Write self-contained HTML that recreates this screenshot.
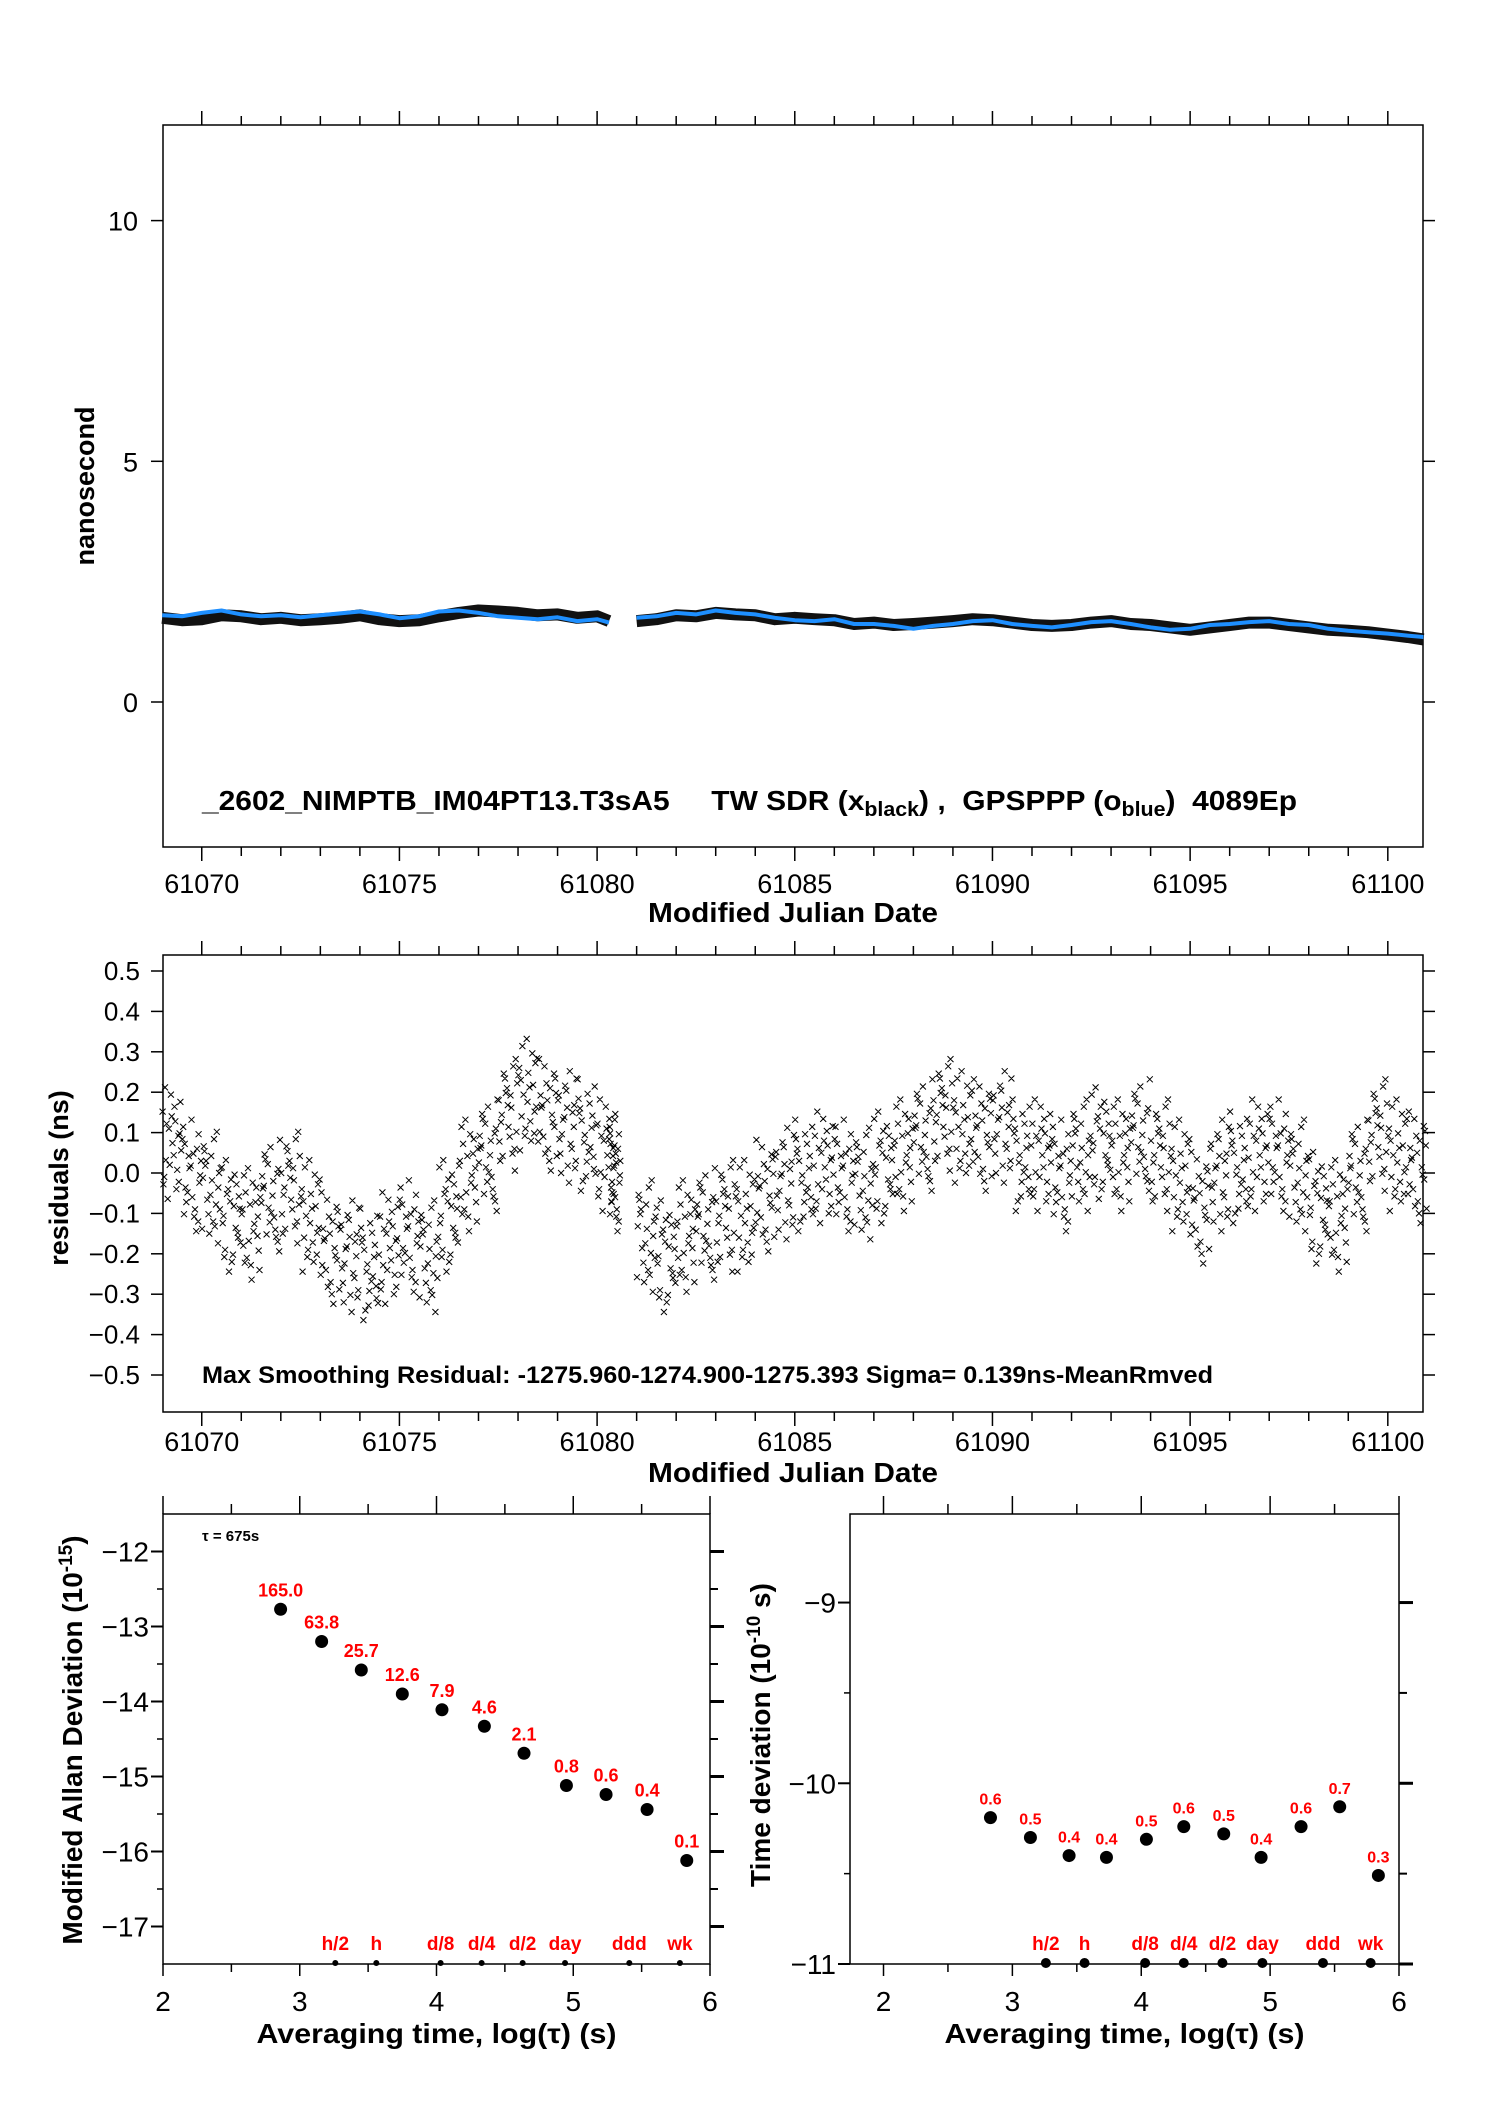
<!DOCTYPE html>
<html><head><meta charset="utf-8"><style>
html,body{margin:0;padding:0;background:#fff}
svg{display:block}
text{font-family:"Liberation Sans",sans-serif}
</style></head><body>
<svg id="fig" width="1488" height="2105" viewBox="0 0 1488 2105" xmlns="http://www.w3.org/2000/svg"></svg>
<script>
// ---------- DATA ----------
const topDaysA = [61069,61069.5,61070,61070.5,61071,61071.5,61072,61072.5,61073,61073.5,61074,61074.5,61075,61075.5,61076,61076.5,61077,61077.5,61078,61078.5,61079,61079.5,61080,61080.3];
const topBlackA = [1.75,1.7,1.72,1.8,1.78,1.72,1.75,1.7,1.72,1.75,1.8,1.72,1.68,1.7,1.78,1.85,1.9,1.88,1.85,1.8,1.82,1.75,1.78,1.68];
const topBlueA = [1.8,1.78,1.85,1.9,1.82,1.78,1.8,1.76,1.8,1.84,1.88,1.82,1.74,1.78,1.88,1.9,1.85,1.78,1.75,1.72,1.76,1.68,1.72,1.65];
const topDaysB = [61081,61081.5,61082,61082.5,61083,61083.5,61084,61084.5,61085,61085.5,61086,61086.5,61087,61087.5,61088,61088.5,61089,61089.5,61090,61090.5,61091,61091.5,61092,61092.5,61093,61093.5,61094,61094.5,61095,61095.5,61096,61096.5,61097,61097.5,61098,61098.5,61099,61099.5,61100,61100.5,61100.9];
const topBlackB = [1.68,1.72,1.8,1.78,1.85,1.82,1.8,1.72,1.75,1.72,1.7,1.62,1.65,1.6,1.62,1.65,1.68,1.72,1.7,1.65,1.6,1.58,1.6,1.65,1.68,1.62,1.6,1.55,1.5,1.55,1.6,1.65,1.65,1.6,1.55,1.5,1.48,1.45,1.4,1.35,1.3];
const topBlueB = [1.75,1.78,1.85,1.82,1.9,1.85,1.82,1.75,1.7,1.68,1.72,1.62,1.62,1.58,1.52,1.58,1.62,1.68,1.7,1.62,1.58,1.55,1.6,1.66,1.68,1.62,1.55,1.5,1.52,1.6,1.62,1.66,1.68,1.62,1.6,1.52,1.48,1.45,1.42,1.38,1.35];
const resDays = [61069,61069.5,61070,61070.5,61071,61071.5,61072,61072.5,61073,61073.5,61074,61074.5,61075,61075.5,61076,61076.5,61077,61077.5,61078,61078.5,61079,61079.5,61080,61080.3,
 61081,61081.5,61082,61082.5,61083,61083.5,61084,61084.5,61085,61085.5,61086,61086.5,61087,61087.5,61088,61088.5,61089,61089.5,61090,61090.5,61091,61091.5,61092,61092.5,61093,61093.5,61094,61094.5,61095,61095.5,61096,61096.5,61097,61097.5,61098,61098.5,61099,61099.5,61100,61100.5];
const resCenter = [0.08,0.0,-0.03,-0.1,-0.12,-0.05,-0.03,-0.1,-0.18,-0.2,-0.22,-0.18,-0.15,-0.2,-0.1,0.0,0.05,0.15,0.2,0.15,0.12,0.1,0.05,0.0,
 -0.15,-0.2,-0.15,-0.12,-0.1,-0.1,-0.05,-0.02,0.0,0.02,0.0,-0.02,0.02,0.05,0.1,0.15,0.12,0.1,0.12,0.05,0.05,0.0,0.05,0.08,0.05,0.1,0.05,0.0,-0.08,0.0,0.02,0.05,0.05,0.0,-0.08,-0.1,0.0,0.1,0.05,0.02];
const resSpread = 0.12;
const mdevX = [2.86,3.16,3.45,3.75,4.04,4.35,4.64,4.95,5.24,5.54,5.83];
const mdevY = [-12.77,-13.20,-13.58,-13.90,-14.11,-14.33,-14.69,-15.12,-15.24,-15.44,-16.12];
const mdevLbl = ["165.0","63.8","25.7","12.6","7.9","4.6","2.1","0.8","0.6","0.4","0.1"];
const tdevX = [2.83,3.14,3.44,3.73,4.04,4.33,4.64,4.93,5.24,5.54,5.84];
const tdevY = [-10.19,-10.30,-10.40,-10.41,-10.31,-10.24,-10.28,-10.41,-10.24,-10.13,-10.51];
const tdevLbl = ["0.6","0.5","0.4","0.4","0.5","0.6","0.5","0.4","0.6","0.7","0.3"];
const markNames = ["h/2","h","d/8","d/4","d/2","day","ddd","wk"];
const markX = [3.26,3.56,4.03,4.33,4.63,4.94,5.41,5.78];

// ---------- helpers ----------
const NS="http://www.w3.org/2000/svg";
const svg=document.getElementById('fig');
function mk(tag,attrs,parent){const e=document.createElementNS(NS,tag);for(const k in attrs)e.setAttribute(k,attrs[k]);(parent||svg).appendChild(e);return e;}
function txt(s,attrs,parent){const e=mk('text',attrs,parent);e.textContent=s;return e;}
function scale(d0,d1,r0,r1){return v=>r0+(v-d0)*(r1-r0)/(d1-d0);}

// ---------- TOP PANEL ----------
{
const L=163,R=1423,T=125,B=847;
const x=scale(61069.02,61100.89,L,R), y=scale(0,10,702,220.6);
const g=mk('g',{});


const fr=mk('rect',{x:L,y:T,width:R-L,height:B-T,fill:'none',stroke:'#000','stroke-width':1.5},g);

for(let d=61070;d<=61100;d++){const X=x(d),big=d%5===0;
 mk('line',{x1:X,x2:X,y1:T,y2:T-(big?14:9),stroke:'#000','stroke-width':1.5},g);
 mk('line',{x1:X,x2:X,y1:B,y2:B+(big?14:9),stroke:'#000','stroke-width':1.5},g);
 if(big){const t=txt(String(d),{x:X,y:893,'font-size':27,'text-anchor':'middle'},g);
  }}
for(const v of [0,5,10]){const Y=y(v);
 mk('line',{x1:L,x2:L-12,y1:Y,y2:Y,stroke:'#000','stroke-width':1.5},g);
 mk('line',{x1:R,x2:R+12,y1:Y,y2:Y,stroke:'#000','stroke-width':1.5},g);
 const t=txt(String(v),{x:138,y:Y+10,'font-size':27,'text-anchor':'end'},g);
 }
function seg(days,vals,col,w,name){const p=days.map((d,i)=>x(d).toFixed(1)+','+y(vals[i]).toFixed(1)).join(' ');
 const pl=mk('polyline',{points:p,fill:'none',stroke:col,'stroke-width':w,'stroke-linejoin':'round'},g);
 }
seg(topDaysA,topBlackA,'#111',12,'tw-sdr-series');
seg(topDaysB,topBlackB,'#111',12,'tw-sdr-series');
seg(topDaysA,topBlueA,'#1e8fff',4,'gpsppp-series');
seg(topDaysB,topBlueB,'#1e8fff',4,'gpsppp-series');
const yt=txt('nanosecond',{x:0,y:0,'font-size':27,'font-weight':'bold','text-anchor':'middle',transform:'translate(94,486) rotate(-90)'},g);

const xt=txt('Modified Julian Date',{x:793,y:922,'font-size':28,'font-weight':'bold','text-anchor':'middle',textLength:290,lengthAdjust:'spacingAndGlyphs'},g);

const lg=mk('text',{x:202,y:810,'font-size':28,'font-weight':'bold',textLength:1095,lengthAdjust:'spacingAndGlyphs'},g);

lg.innerHTML='_2602_NIMPTB_IM04PT13.T3sA5\u00a0\u00a0\u00a0\u00a0 TW SDR (x<tspan font-size="20" dy="6">black</tspan><tspan dy="-6">) ,\u00a0 GPSPPP (o</tspan><tspan font-size="20" dy="6">blue</tspan><tspan dy="-6">)\u00a0 4089Ep</tspan>';
}

// ---------- MIDDLE PANEL ----------
{
const L=163,R=1423,T=955,B=1412;
const x=scale(61069.02,61100.89,L,R), y=scale(0,0.5,1173,971);
const g=mk('g',{});


const fr=mk('rect',{x:L,y:T,width:R-L,height:B-T,fill:'none',stroke:'#000','stroke-width':1.5},g);

for(let d=61070;d<=61100;d++){const X=x(d),big=d%5===0;
 mk('line',{x1:X,x2:X,y1:T,y2:T-(big?14:9),stroke:'#000','stroke-width':1.5},g);
 mk('line',{x1:X,x2:X,y1:B,y2:B+(big?14:9),stroke:'#000','stroke-width':1.5},g);
 if(big){const t=txt(String(d),{x:X,y:1451,'font-size':27,'text-anchor':'middle'},g);
  }}
const yticks=[0.5,0.4,0.3,0.2,0.1,0.0,-0.1,-0.2,-0.3,-0.4,-0.5];
for(const v of yticks){const Y=y(v);
 mk('line',{x1:L,x2:L-12,y1:Y,y2:Y,stroke:'#000','stroke-width':1.5},g);
 mk('line',{x1:R,x2:R+12,y1:Y,y2:Y,stroke:'#000','stroke-width':1.5},g);
 const t=txt((v<0?'\u2212':'')+Math.abs(v).toFixed(1),{x:140,y:Y+9,'font-size':26,'text-anchor':'end'},g);
 }
const offs=[-0.9,0.4,-0.2,0.8,-0.6,0.1,0.6,-0.4,0.95,-0.75,0.25,-0.05,0.5,-1.0,0.7,-0.3,0.15,-0.85,0.35,-0.5,1.1,-1.2];
const xoffs=[0.03,0.41,0.17,0.29,0.07,0.46,0.22,0.36,0.11,0.33,0.01,0.26,0.44,0.14,0.38,0.05,0.31,0.19,0.48,0.09,0.24,0.42];
const pts=mk('g',{stroke:'#000','stroke-width':1,fill:'none'},g);

let s='';
resDays.forEach((d,i)=>{const c=resCenter[i];const n=offs.length;
 const lim=(i===23)?0.3:0.5;
 for(let k=0;k<n;k++){const dx=xoffs[(k+i*3)%n]*lim/0.5;const X=x(d+dx),Y=y(c+offs[(k*5+i)%n]*resSpread);
  s+=`M${(X-3).toFixed(1)},${(Y-3).toFixed(1)}l6,6M${(X-3).toFixed(1)},${(Y+3).toFixed(1)}l6,-6`;}});
mk('path',{d:s},pts);
const yt=txt('residuals (ns)',{x:0,y:0,'font-size':27,'font-weight':'bold','text-anchor':'middle',transform:'translate(68,1178) rotate(-90)'},g);

const xt=txt('Modified Julian Date',{x:793,y:1482,'font-size':28,'font-weight':'bold','text-anchor':'middle',textLength:290,lengthAdjust:'spacingAndGlyphs'},g);

const ann=txt('Max Smoothing Residual: -1275.960-1274.900-1275.393  Sigma= 0.139ns-MeanRmved',{x:202,y:1383,'font-size':24,'font-weight':'bold',textLength:1011,lengthAdjust:'spacingAndGlyphs'},g);

}

// ---------- STABILITY PANELS ----------
function stab(opt){
const {L,R,T,B,x0,x1,y0,y1,xs,ys,lbls,name,ytitle,ytx,yticks,minor,ybase}=opt;
const x=scale(x0,x1,L,R), y=scale(y0,y1,B,T);
const g=mk('g',{});


const fr=mk('rect',{x:L,y:T,width:R-L,height:B-T,fill:'none',stroke:'#000','stroke-width':1.5},g);

for(let v=2;v<=6;v+=0.5){const X=x(v),big=Number.isInteger(v);
 mk('line',{x1:X,x2:X,y1:T,y2:T-(big?18:10),stroke:'#000','stroke-width':1.5},g);
 mk('line',{x1:X,x2:X,y1:B,y2:B+(big?12:8),stroke:'#000','stroke-width':1.5},g);
 if(big){const t=txt(String(v),{x:X,y:2011,'font-size':28,'text-anchor':'middle'},g);
  }}
for(const v of minor){const Y=y(v);
 mk('line',{x1:L,x2:L-6,y1:Y,y2:Y,stroke:'#000','stroke-width':1.5},g);
 mk('line',{x1:R,x2:R+8,y1:Y,y2:Y,stroke:'#000','stroke-width':2},g);}
for(const v of yticks){const Y=y(v);
 mk('line',{x1:L,x2:L-12,y1:Y,y2:Y,stroke:'#000','stroke-width':2},g);
 mk('line',{x1:R,x2:R+14,y1:Y,y2:Y,stroke:'#000','stroke-width':3},g);
 const t=txt('\u2212'+Math.abs(v),{x:L-14,y:Y+10,'font-size':28,'text-anchor':'end'},g);
 }
xs.forEach((v,i)=>{
 const c=mk('circle',{cx:x(v),cy:y(ys[i]),r:6.5,fill:'#000'},g);
 
 const t=txt(lbls[i],{x:x(v),y:y(ys[i])-13,'font-size':opt.lfs,'font-weight':'bold',fill:'#f00','text-anchor':'middle'},g);
 });
markX.forEach((v,i)=>{
 const c=mk('circle',{cx:x(v),cy:B-1,r:opt.mr,fill:'#000'},g);
 
 const t=txt(markNames[i],{x:x(v),y:B-14,'font-size':19,'font-weight':'bold',fill:'#f00','text-anchor':'middle'},g);
 });
const xt=txt('Averaging time, log(\u03c4) (s)',{x:(L+R)/2,y:2043,'font-size':28,'font-weight':'bold','text-anchor':'middle',textLength:360,lengthAdjust:'spacingAndGlyphs'},g);

const yt=mk('text',{x:0,y:0,'font-size':28,'font-weight':'bold','text-anchor':'middle',transform:`translate(${ytx},${ybase}) rotate(-90)`},g);

yt.innerHTML=ytitle;
return {g,x,y};
}
const left=stab({L:163,R:710,T:1514,B:1964,x0:2,x1:6,y0:-17.5,y1:-11.5,xs:mdevX,ys:mdevY,lbls:mdevLbl,name:'mdev-panel',
 ytitle:'Modified Allan Deviation (10<tspan font-size="19" dy="-10">-15</tspan><tspan dy="10">)</tspan>',ytx:82,ybase:1740,
 yticks:[-12,-13,-14,-15,-16,-17],minor:[-12.5,-13.5,-14.5,-15.5,-16.5],lfs:18,mr:3});
const tau=txt('\u03c4 = 675s',{x:202,y:1541,'font-size':15,'font-weight':'bold'},left.g);

stab({L:850,R:1399,T:1514,B:1964,x0:1.74,x1:6,y0:-11,y1:-8.51,xs:tdevX,ys:tdevY,lbls:tdevLbl,name:'tdev-panel',
 ytitle:'Time deviation (10<tspan font-size="19" dy="-10">-10</tspan><tspan dy="10"> s)</tspan>',ytx:770,ybase:1735,
 yticks:[-9,-10,-11],minor:[-9.5,-10.5],lfs:16,mr:5});
</script>
</body></html>
